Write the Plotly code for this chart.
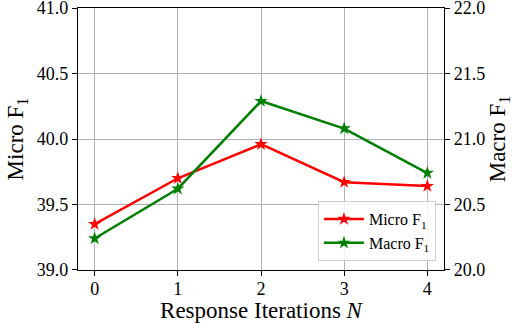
import plotly.graph_objects as go

# data
iterations = [0, 1, 2, 3, 4]
micro_f1 = [39.35, 39.70, 39.96, 39.67, 39.64]
macro_f1 = [20.24, 20.62, 21.29, 21.08, 20.74]
micro_ticks = [39.0, 39.5, 40.0, 40.5, 41.0]
macro_ticks = [20.0, 20.5, 21.0, 21.5, 22.0]

serif = "Liberation Serif, Times New Roman, serif"

fig = go.Figure()
fig.add_trace(go.Scatter(x=iterations, y=micro_f1, name="Micro F<sub>1</sub>",
                         mode="lines+markers", line=dict(color="red", width=2.5),
                         marker=dict(symbol="star", size=10, color="red")))
fig.add_trace(go.Scatter(x=iterations, y=macro_f1, name="Macro F<sub>1</sub>",
                         mode="lines+markers", line=dict(color="green", width=2.5),
                         marker=dict(symbol="star", size=10, color="green"),
                         yaxis="y2"))

axis_common = dict(showline=True, linecolor="black", linewidth=1.2,
                   ticks="outside", ticklen=5, tickcolor="black",
                   showgrid=True, gridcolor="#b0b0b0", gridwidth=1,
                   zeroline=False, automargin=False, ticklabeloverflow="allow",
                   tickfont=dict(family=serif, size=18, color="black"))
title_font = dict(family=serif, size=23, color="black")

fig.update_layout(
    width=517, height=323,
    margin=dict(l=78, r=73, t=8, b=53),
    plot_bgcolor="white", paper_bgcolor="white",
    font=dict(family=serif, color="black"),
    xaxis=dict(axis_common, range=[-0.2, 4.2], tickvals=iterations, mirror=True,
               ticklabelstandoff=-3,
               title=dict(text="Response Iterations <i>N</i>", font=title_font, standoff=6)),
    yaxis=dict(axis_common, range=[38.999, 41.001], tickvals=micro_ticks,
               ticktext=[f"{v:.1f}" for v in micro_ticks],
               title=dict(text="Micro F<sub>1</sub>", font=title_font, standoff=6)),
    yaxis2=dict(axis_common, range=[19.999, 22.001], tickvals=macro_ticks,
                ticktext=[f"{v:.1f}" for v in macro_ticks],
                overlaying="y", side="right", showgrid=False,
                title=dict(text="Macro F<sub>1</sub>", font=title_font, standoff=4)),
    legend=dict(x=0.978, y=0.034, xanchor="right", yanchor="bottom",
                bgcolor="rgba(255,255,255,0.85)", bordercolor="#d0d0d0", borderwidth=1,
                font=dict(family=serif, size=16, color="black"), itemwidth=40, tracegroupgap=2),
    showlegend=True,
)

# the page body has a default 8px margin; drop it so the figure sits at the corner
fig.write_html("out.html", config={"displayModeBar": False},
               post_script="document.body.style.margin='0';")
